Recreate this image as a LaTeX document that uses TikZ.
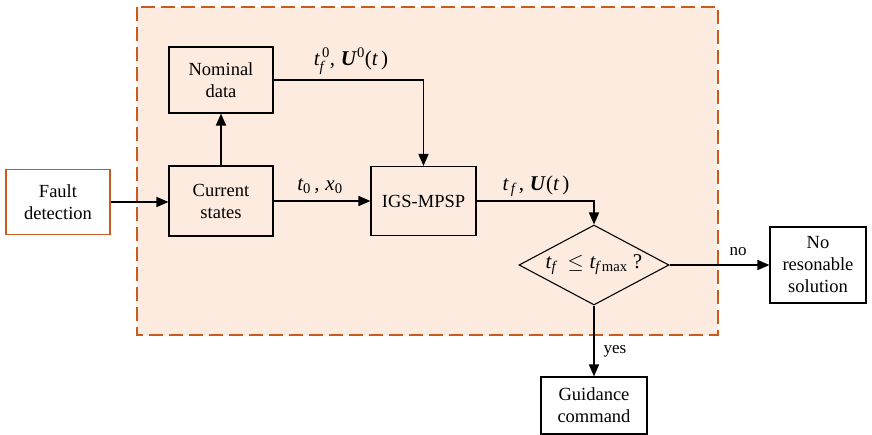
\documentclass[tikz,border=0pt]{standalone}
\usepackage{amsmath}
\usepackage{fontspec}
\setmainfont{Liberation Serif}
\usetikzlibrary{arrows.meta,shapes.geometric}
\definecolor{orng}{RGB}{200,92,30}
\definecolor{peach}{RGB}{253,235,223}
\begin{document}
\begin{tikzpicture}[x=1pt,y=-1pt,
  box/.style={draw=black, line width=1.1pt, align=center, inner sep=0pt,
    font=\fontsize{18.5}{22}\selectfont},
  obox/.style={box, draw=orng, fill=white},
  wbox/.style={box, fill=white},
  dec/.style={diamond, draw=black, line width=1.1pt, inner sep=0pt, aspect=1.875,
    minimum width=150pt, minimum height=80pt, font=\fontsize{21}{24}\selectfont},
  arr/.style={line width=1.6pt, -{Triangle[length=12pt,width=10pt]}},
  lab/.style={font=\fontsize{21}{24}\selectfont, inner sep=0pt},
  slab/.style={font=\fontsize{17}{20}\selectfont, inner sep=0pt}]
\useasboundingbox (0,0) rectangle (872,434);
\fill[white] (0,0) rectangle (872,434);
\draw[draw=orng, fill=peach, line width=1.3pt, dash pattern=on 14pt off 6pt]
  (137,7) rectangle (718,335);
\node[obox, minimum width=104pt, minimum height=65pt] (fault) at (58,202) {Fault\\detection};
\node[box, minimum width=104pt, minimum height=70pt] (cur) at (221,201) {Current\\states};
\node[box, minimum width=104pt, minimum height=66pt] (nom) at (221,80) {Nominal\\data};
\node[box, minimum width=105pt, minimum height=69pt] (igs) at (423.5,201) {IGS-MPSP};
\node[dec] (dia) at (594,265) {$\textit{t}_{\textit{f}}\;\leq \textit{t}_{\textit{f}\,\textup{max}}$ ?};
\node[wbox, minimum width=96pt, minimum height=76pt] (nos) at (818,265) {No\\resonable\\solution};
\node[wbox, minimum width=106pt, minimum height=57pt] (gui) at (594,405.5) {Guidance\\command};
\draw[arr] (fault.east) -- (fault.east -| cur.west);
\draw[arr] (cur.north) -- (nom.south);
\draw[arr] (nom.east |- 0,80) -| (igs.north);
\draw[arr] (cur.east) -- (igs.west);
\draw[arr] (igs.east) -| (dia.north);
\draw[arr] (dia.east) -- (nos.west);
\draw[arr] (dia.south) -- (gui.north);
\node[lab] (l1) at (351,61) {$\textit{t}^{\,\textup{0}}_{\textit{f}}\textup{,}\;\textbf{\textit{U}}^{\textup{0}}\textup{(}\textit{t}\,\textup{)}$};
\node[lab] (l2) at (320,186) {$\textit{t}_{\textup{0}}\,\textup{,}\;\textit{x}_{\textup{0}}$};
\node[lab] (l3) at (536,186) {$\textit{t}_{\,\textit{f}}\,\textup{,}\;\textbf{\textit{U}}\textup{(}\textit{t}\,\textup{)}$};
\node[slab] (l4) at (738,252) {no};
\node[slab] (l5) at (615,351) {yes};
\end{tikzpicture}
\end{document}
